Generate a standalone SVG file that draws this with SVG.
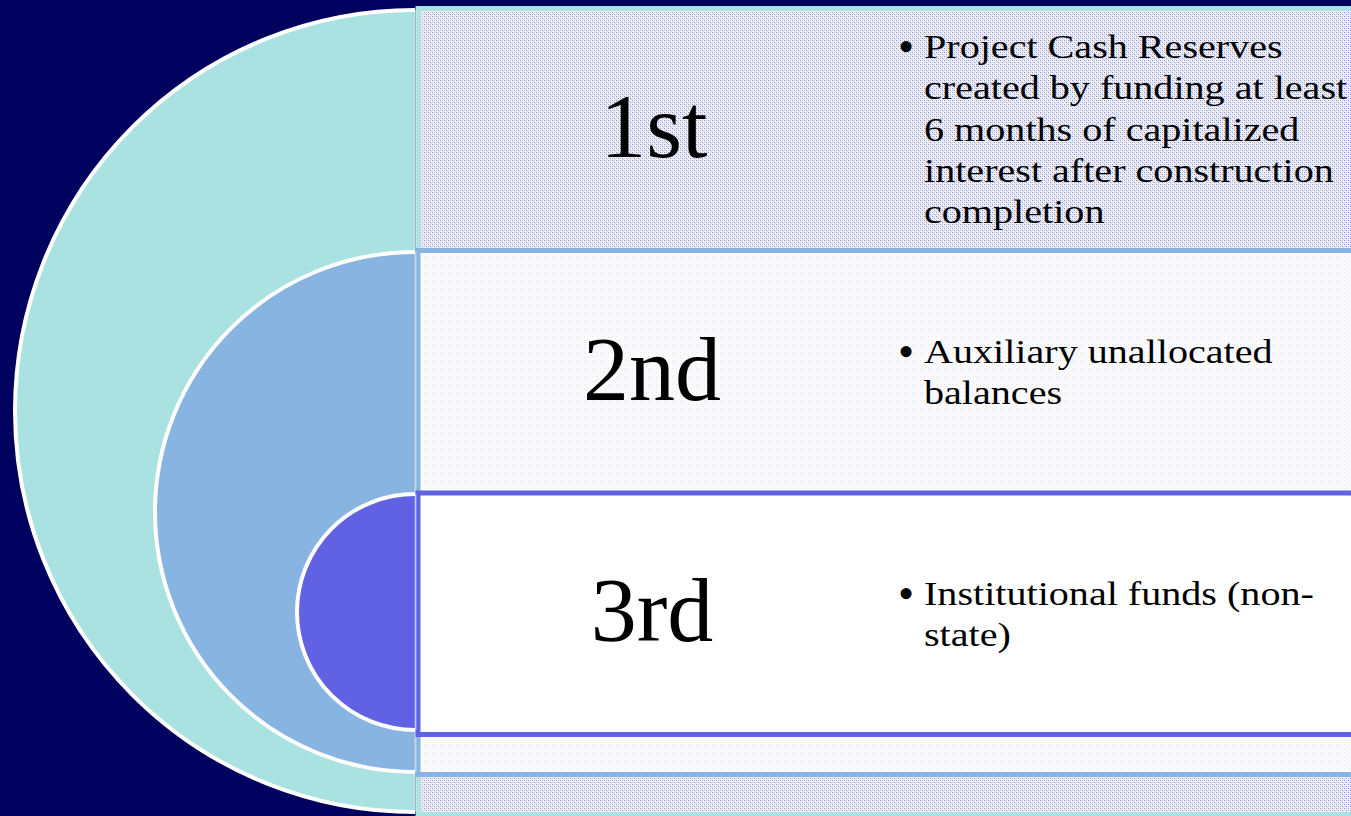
<svg xmlns="http://www.w3.org/2000/svg" width="1351" height="816" viewBox="0 0 1351 816">
  <defs>
    <!-- dotted lavender fill used by the teal tier -->
    <pattern id="dots" width="4" height="4" patternUnits="userSpaceOnUse">
      <rect width="4" height="4" fill="#F2F4FA"/>
      <rect x="0" y="0" width="1" height="1" fill="#8C8DCC"/>
      <rect x="2" y="2" width="1" height="1" fill="#8C8DCC"/>
      <rect x="2" y="0" width="1" height="1" fill="#C9CAE8"/>
      <rect x="0" y="2" width="1" height="1" fill="#C9CAE8"/>
      <rect x="1" y="1" width="1" height="1" fill="#DCDDF0"/>
      <rect x="3" y="3" width="1" height="1" fill="#DCDDF0"/>
    </pattern>
    <!-- faint dotted fill used by the blue tier -->
    <pattern id="faint" width="4" height="4" patternUnits="userSpaceOnUse">
      <rect width="4" height="4" fill="#FCFCFE"/>
      <rect x="0" y="0" width="1" height="1" fill="#E6E6EF"/>
      <rect x="2" y="2" width="1" height="1" fill="#EDEDF4"/>
    </pattern>
    <style>
      .panel { stroke-width: 5; }
      .ring { stroke: #FFFFFF; stroke-width: 4; }
      .edge { stroke: #FFFFFF; stroke-width: 2; stroke-opacity: 0.45; }
      .tier { font-family: "Liberation Serif", "Times New Roman", serif; font-size: 92px; fill: #000000; text-anchor: middle; }
      .item { font-family: "Liberation Serif", "Times New Roman", serif; font-size: 34px; fill: #000000; }
      .dot { font-family: "Liberation Serif", "Times New Roman", serif; font-size: 46px; fill: #000000; }
    </style>
  </defs>

  <!-- background -->
  <rect width="1351" height="816" fill="#00005F"/>

  <!-- first tier: outer half-disc and its panel -->
  <g id="tier-1">
    <rect class="panel" x="418" y="8.5" width="960" height="806" fill="url(#dots)" stroke="#AAE1E1"/>
    <path d="M415 10 A400 401 0 0 0 415 812 Z" fill="#AAE1E1"/>
    <path class="ring" d="M415 10 A400 401 0 0 0 415 812" fill="none"/>
    <line class="edge" x1="415.5" y1="10" x2="415.5" y2="812"/>
    <text class="tier" x="654" y="157">1st</text>
    <text class="dot" x="898" y="62">•</text>
    <text class="item" transform="translate(924 58) scale(1.18 1)">
      <tspan x="0" y="0">Project Cash Reserves</tspan>
      <tspan x="0" y="41.3">created by funding at least</tspan>
      <tspan x="0" y="82.6">6 months of capitalized</tspan>
      <tspan x="0" y="123.9">interest after construction</tspan>
      <tspan x="0" y="165.2">completion</tspan>
    </text>
  </g>

  <!-- second tier: middle half-disc and its panel -->
  <g id="tier-2">
    <rect class="panel" x="418" y="250.5" width="960" height="524" fill="url(#faint)" stroke="#88B4E1"/>
    <path d="M415 252 A260 260 0 0 0 415 772 Z" fill="#88B4E1"/>
    <path class="ring" d="M415 252 A260 260 0 0 0 415 772" fill="none"/>
    <line class="edge" x1="415.5" y1="252" x2="415.5" y2="772"/>
    <text class="tier" x="652" y="400">2nd</text>
    <text class="dot" x="898" y="367">•</text>
    <text class="item" transform="translate(924 363) scale(1.18 1)">
      <tspan x="0" y="0">Auxiliary unallocated</tspan>
      <tspan x="0" y="41.3">balances</tspan>
    </text>
  </g>

  <!-- third tier: inner half-disc and its panel -->
  <g id="tier-3">
    <rect class="panel" x="418" y="493" width="960" height="241.5" fill="#FFFFFF" stroke="#6161E3"/>
    <path d="M415 494 A118 118 0 0 0 415 730 Z" fill="#6161E3"/>
    <path class="ring" d="M415 494 A118 118 0 0 0 415 730" fill="none"/>
    <line class="edge" x1="415.5" y1="494" x2="415.5" y2="730"/>
    <text class="tier" x="652" y="641">3rd</text>
    <text class="dot" x="898" y="609">•</text>
    <text class="item" transform="translate(924 605) scale(1.18 1)">
      <tspan x="0" y="0">Institutional funds (non-</tspan>
      <tspan x="0" y="41.3">state)</tspan>
    </text>
  </g>

  <!-- no connectors in this figure -->
  <g id="connectors"/>
</svg>
